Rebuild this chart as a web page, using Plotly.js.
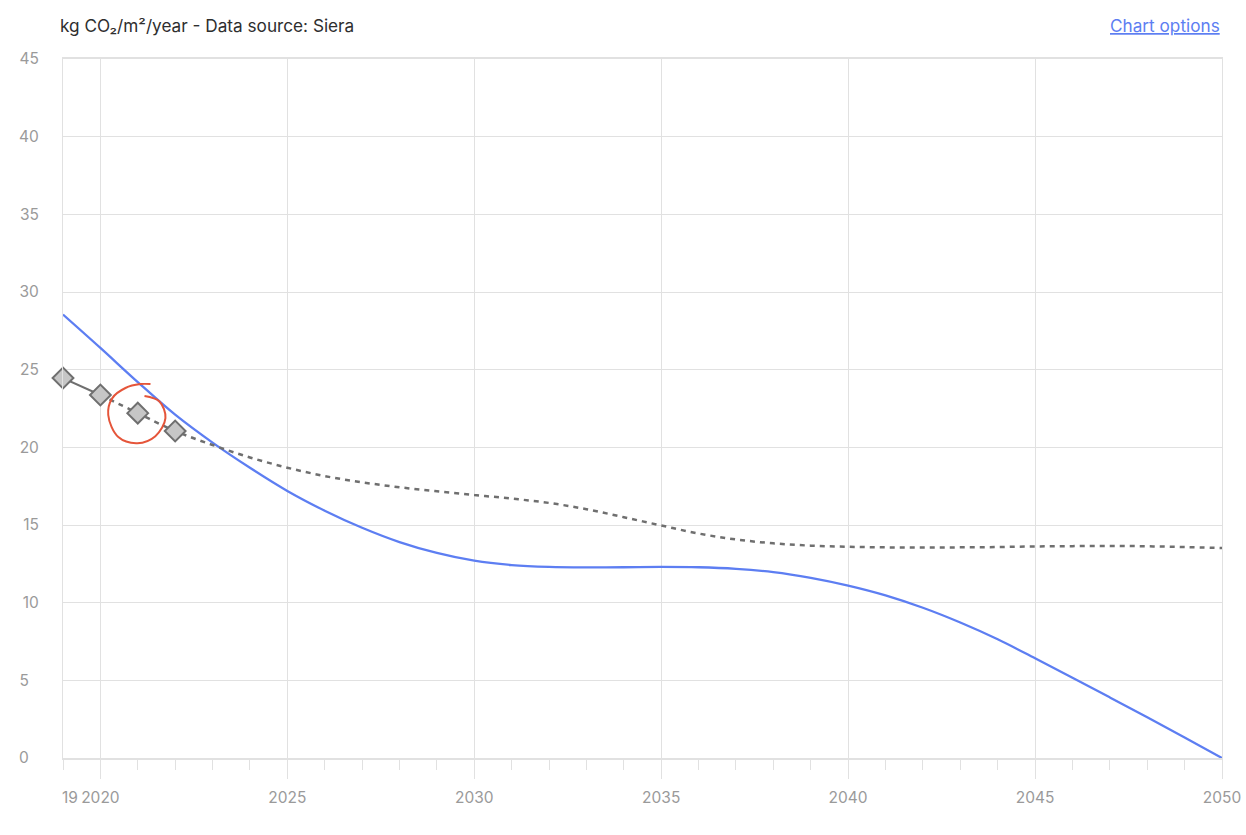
<!DOCTYPE html>
<html>
<head>
<meta charset="utf-8">
<script src="https://cdn.plot.ly/plotly-3.0.1.min.js"></script>
<style>html,body{margin:0;padding:0;background:#fff;}#chart{width:1246px;height:835px;}</style>
</head>
<body>
<div id="chart"></div>
<script>
// Measured history (diamond markers)
const historyYears = [2019, 2020, 2021, 2022];
const historyValues = [24.46, 23.37, 22.2, 21.05];

// Projection (dashed line)
const projectionYears = [2020, 2021, 2022, 2023, 2024, 2025, 2026, 2027, 2028, 2029, 2030, 2031, 2032, 2033, 2034, 2035, 2036, 2037, 2038, 2039, 2040, 2041, 2042, 2043, 2044, 2045, 2046, 2047, 2048, 2049, 2050];
const projectionValues = [23.37, 22.2, 21.05, 20.15, 19.35, 18.69, 18.15, 17.75, 17.43, 17.17, 16.93, 16.7, 16.42, 16.02, 15.5, 14.97, 14.45, 14.07, 13.82, 13.67, 13.6, 13.56, 13.55, 13.56, 13.58, 13.62, 13.64, 13.65, 13.63, 13.58, 13.52];

// Target pathway (blue line)
const targetYears = [2019, 2020, 2021, 2022, 2023, 2024, 2025, 2026, 2027, 2028, 2029, 2030, 2031, 2032, 2033, 2034, 2035, 2036, 2037, 2038, 2039, 2040, 2041, 2042, 2043, 2044, 2045, 2046, 2047, 2048, 2049, 2050];
const targetValues = [28.55, 26.4, 24.2, 22.1, 20.3, 18.68, 17.19, 15.92, 14.82, 13.9, 13.2, 12.7, 12.42, 12.3, 12.27, 12.28, 12.3, 12.28, 12.18, 11.97, 11.6, 11.1, 10.47, 9.67, 8.72, 7.64, 6.42, 5.17, 3.9, 2.62, 1.32, 0];

// Hand-drawn highlight loop around the 2021 point
const circleX = [2021.18, 2021.58, 2021.74, 2021.47, 2020.99, 2020.48, 2020.21, 2020.32, 2020.67, 2021.07, 2021.34];
const circleY = [23.3, 22.95, 21.88, 20.72, 20.27, 20.66, 22.08, 23.17, 23.82, 24.07, 24.07];

// Axis ticks
const yTickVals = [0, 5, 10, 15, 20, 25, 30, 35, 40, 45];
const yTickText = ['0\u2007', '5\u2007', '10', '15', '20', '25', '30', '35', '40', '45'];
const xTickVals = [2020, 2025, 2030, 2035, 2040, 2045, 2050];
const xTickText = ['2020', '2025', '2030', '2035', '2040', '2045', '2050'];
const xStartTick = [2019];
const xStartText = ['19'];

const titleText = 'kg CO\u2082/m\u00b2/year - Data source: Siera';
const optionsText = 'Chart options';

const grey = '#6f6f6f';
const blue = '#5d7ef2';
const gridColor = '#e1e1e1';
const tickFontColor = '#9a9a9a';
const FONT = 'Inter, "Noto Sans", sans-serif';

const traces = [
  {
    x: targetYears, y: targetValues, type: 'scatter', mode: 'lines',
    line: {color: blue, width: 2.3, shape: 'spline', smoothing: 1},
    hoverinfo: 'skip'
  },
  {
    x: projectionYears, y: projectionValues, type: 'scatter', mode: 'lines',
    line: {color: grey, width: 2.5, dash: '5px,5px', shape: 'spline', smoothing: 1},
    hoverinfo: 'skip'
  },
  {
    x: historyYears.slice(0, 2), y: historyValues.slice(0, 2), type: 'scatter', mode: 'lines',
    line: {color: grey, width: 2},
    hoverinfo: 'skip'
  },
  {
    x: historyYears, y: historyValues, type: 'scatter', mode: 'markers',
    marker: {symbol: 'diamond', size: 16, color: '#c6c6c6', line: {color: grey, width: 2}},
    cliponaxis: false,
    hoverinfo: 'skip'
  },
  {
    x: circleX, y: circleY, type: 'scatter', mode: 'lines',
    line: {color: '#e5553a', width: 2, shape: 'spline', smoothing: 1},
    hoverinfo: 'skip'
  },
  {
    x: xStartTick, y: [0], xaxis: 'x2', type: 'scatter', mode: 'markers',
    marker: {opacity: 0}, hoverinfo: 'skip'
  }
];

const layout = {
  width: 1246, height: 835,
  paper_bgcolor: '#ffffff', plot_bgcolor: '#ffffff',
  margin: {l: 63, r: 24, t: 59, b: 77},
  showlegend: false,
  font: {family: FONT, color: '#333'},
  title: {
    text: titleText,
    font: {family: FONT, size: 17.2, color: '#2e2e2e'},
    xref: 'container', yref: 'container',
    x: 60 / 1246, xanchor: 'left',
    y: 1 - 26 / 835, yanchor: 'middle'
  },
  xaxis: {
    range: [2019, 2050],
    tickmode: 'array', tickvals: xTickVals, ticktext: xTickText,
    ticks: 'outside', ticklen: 19, tickwidth: 1, tickcolor: gridColor,
    ticklabelstandoff: 5,
    minor: {dtick: 1, tick0: 2019, ticks: 'outside', ticklen: 10, tickwidth: 1, tickcolor: gridColor, showgrid: false},
    showgrid: true, gridcolor: gridColor, gridwidth: 1,
    showline: true, linecolor: gridColor, linewidth: 2, mirror: true,
    zeroline: false,
    tickfont: {family: FONT, size: 15.5, color: tickFontColor}
  },
  xaxis2: {
    overlaying: 'x', side: 'bottom', matches: 'x',
    range: [2019, 2050],
    tickmode: 'array', tickvals: xStartTick, ticktext: xStartText,
    ticks: '', ticklabelstandoff: 28, ticklabelshift: 7,
    showgrid: false, showline: false, zeroline: false,
    tickfont: {family: FONT, size: 15.5, color: tickFontColor}
  },
  yaxis: {
    range: [0, 45],
    tickmode: 'array', tickvals: yTickVals, ticktext: yTickText,
    ticks: '', ticklabelstandoff: 20,
    showgrid: true, gridcolor: gridColor, gridwidth: 1,
    showline: true, linecolor: gridColor, linewidth: 1, mirror: true,
    zeroline: false,
    tickfont: {family: FONT, size: 15.5, color: tickFontColor}
  },
  annotations: [
    {
      text: '<span style="text-decoration:underline">' + optionsText + '</span>',
      xref: 'paper', yref: 'paper', x: 1, xanchor: 'right',
      y: 1 + 33 / 699, yanchor: 'middle', showarrow: false,
      font: {family: FONT, size: 17.2, color: '#5d7ef2'}
    }
  ]
};

Plotly.newPlot('chart', traces, layout, {displayModeBar: false, staticPlot: true});
</script>
</body>
</html>
